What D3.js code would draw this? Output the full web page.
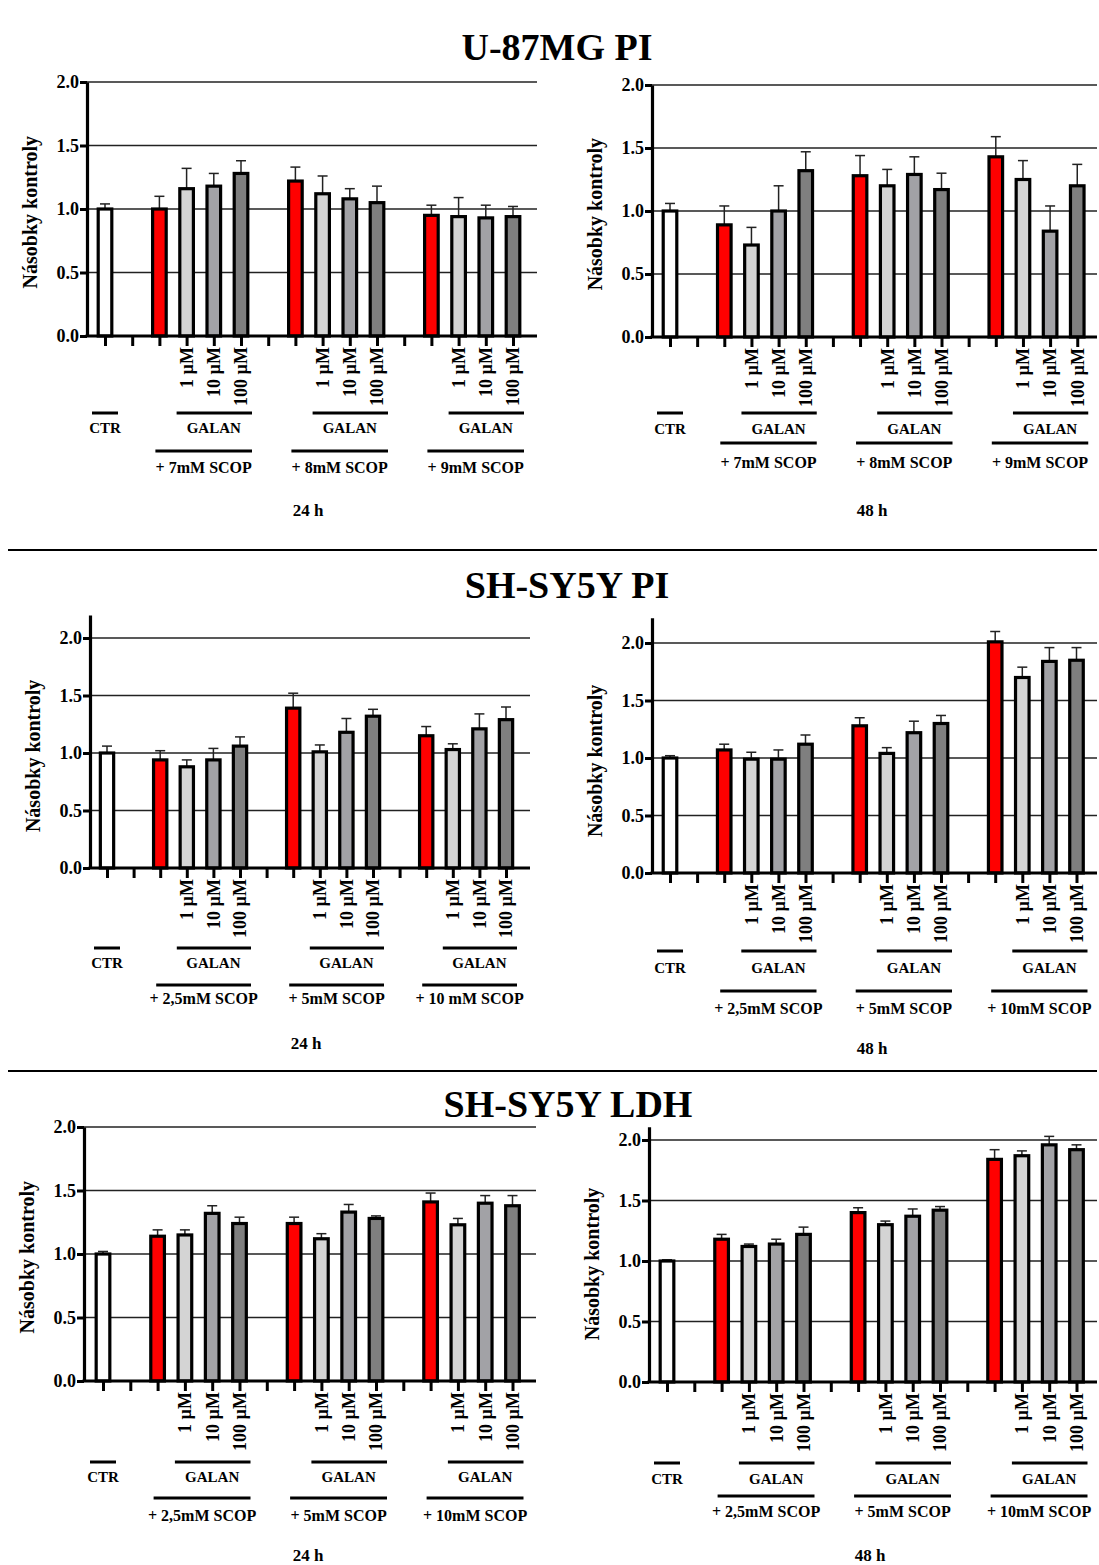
<!DOCTYPE html>
<html>
<head>
<meta charset="utf-8">
<script src="https://cdn.jsdelivr.net/npm/d3@7"></script>
<style>
  body { margin: 0; background: #fff; }
  svg text { font-family: "Liberation Serif", "Times New Roman", serif; font-weight: bold; fill: #000; }
</style>
</head>
<body>
<div id="chart"></div>
<script>
// Data
const yTicks = [0, 0.5, 1.0, 1.5, 2.0];
const concLabels = ["1 µM", "10 µM", "100 µM"];
// slot layout on the x axis: ctr, gap, then 3 x (scop, 1, 10, 100) separated by gaps
const slotKinds = ["ctr", "gap", "scop", "c1", "c10", "c100", "gap", "scop", "c1", "c10", "c100", "gap", "scop", "c1", "c10", "c100"];

const scopU87 = ["+ 7mM SCOP", "+ 8mM SCOP", "+ 9mM SCOP"];
const scopSH24 = ["+ 2,5mM SCOP", "+ 5mM SCOP", "+ 10 mM SCOP"];
const scopSH48 = ["+ 2,5mM SCOP", "+ 5mM SCOP", "+ 10mM SCOP"];
const scopLDH = ["+ 2,5mM SCOP", "+ 5mM SCOP", "+ 10mM SCOP"];

// means: CTR, then per SCOP dose: SCOP alone, +1, +10, +100 uM GALAN
const u87pi24Mean = [1.00, 1.00, 1.16, 1.18, 1.28, 1.22, 1.12, 1.08, 1.05, 0.95, 0.94, 0.93, 0.94];
const u87pi24Err  = [0.04, 0.10, 0.16, 0.10, 0.10, 0.11, 0.14, 0.08, 0.13, 0.08, 0.15, 0.10, 0.08];
const u87pi48Mean = [1.00, 0.89, 0.73, 1.00, 1.32, 1.28, 1.20, 1.29, 1.17, 1.43, 1.25, 0.84, 1.20];
const u87pi48Err  = [0.06, 0.15, 0.14, 0.20, 0.15, 0.16, 0.13, 0.14, 0.13, 0.16, 0.15, 0.20, 0.17];
const shpi24Mean  = [1.00, 0.94, 0.88, 0.94, 1.06, 1.39, 1.01, 1.18, 1.32, 1.15, 1.03, 1.21, 1.29];
const shpi24Err   = [0.06, 0.08, 0.06, 0.10, 0.08, 0.13, 0.06, 0.12, 0.06, 0.08, 0.05, 0.13, 0.11];
const shpi48Mean  = [1.00, 1.07, 0.99, 0.99, 1.12, 1.28, 1.04, 1.22, 1.30, 2.01, 1.70, 1.84, 1.85];
const shpi48Err   = [0.02, 0.05, 0.06, 0.08, 0.08, 0.07, 0.05, 0.10, 0.07, 0.09, 0.09, 0.12, 0.11];
const ldh24Mean   = [1.00, 1.14, 1.15, 1.32, 1.24, 1.24, 1.12, 1.33, 1.28, 1.41, 1.23, 1.40, 1.38];
const ldh24Err    = [0.02, 0.05, 0.04, 0.06, 0.05, 0.05, 0.04, 0.06, 0.02, 0.07, 0.05, 0.06, 0.08];
const ldh48Mean   = [1.00, 1.18, 1.12, 1.14, 1.22, 1.40, 1.30, 1.37, 1.42, 1.84, 1.87, 1.96, 1.92];
const ldh48Err    = [0.01, 0.04, 0.02, 0.04, 0.06, 0.04, 0.03, 0.06, 0.03, 0.08, 0.04, 0.07, 0.04];

const titles = [
  {text: "U-87MG PI", x: 557, y: 60},
  {text: "SH-SY5Y PI", x: 567, y: 598},
  {text: "SH-SY5Y LDH", x: 568, y: 1117}
];

const fills = {ctr: "#ffffff", scop: "#ff0000", c1: "#d4d4d4", c10: "#a2a2a6", c100: "#7f7f7f"};

// panel layout
const panels = [
  {mean: u87pi24Mean, err: u87pi24Err, scop: scopU87, time: "24 h",
   x0: 87, right: 537, c0: 105, step: 27.2, y0: 336, y2: 82, yMax: 2.0,
   galanY: 413, galanT: 433, scopY: 451, scopT: 473, timeX: 308, timeT: 516},
  {mean: u87pi48Mean, err: u87pi48Err, scop: scopU87, time: "48 h",
   x0: 652, right: 1097, c0: 670, step: 27.15, y0: 337, y2: 85, yMax: 2.0,
   galanY: 413, galanT: 434, scopY: 443, scopT: 468, timeX: 872, timeT: 516},
  {mean: shpi24Mean, err: shpi24Err, scop: scopSH24, time: "24 h",
   x0: 90, right: 530, c0: 107, step: 26.6, y0: 868, y2: 638, yMax: 2.2,
   galanY: 948, galanT: 968, scopY: 985, scopT: 1004, timeX: 306, timeT: 1049},
  {mean: shpi48Mean, err: shpi48Err, scop: scopSH48, time: "48 h",
   x0: 652, right: 1097, c0: 670, step: 27.1, y0: 873, y2: 643, yMax: 2.22,
   galanY: 951, galanT: 973, scopY: 991, scopT: 1014, timeX: 872, timeT: 1054},
  {mean: ldh24Mean, err: ldh24Err, scop: scopLDH, time: "24 h",
   x0: 84, right: 536, c0: 103, step: 27.3, y0: 1381, y2: 1127, yMax: 2.0,
   galanY: 1462, galanT: 1482, scopY: 1498, scopT: 1521, timeX: 308, timeT: 1561},
  {mean: ldh48Mean, err: ldh48Err, scop: scopLDH, time: "48 h",
   x0: 649, right: 1097, c0: 667, step: 27.3, y0: 1382, y2: 1140, yMax: 2.11,
   galanY: 1463, galanT: 1484, scopY: 1496, scopT: 1517, timeX: 870, timeT: 1561}
];

const svg = d3.select("#chart").append("svg")
  .attr("width", 1099).attr("height", 1565);

svg.append("rect").attr("width", 1099).attr("height", 1565).attr("fill", "#fff");

// section titles and separators
svg.selectAll(".title").data(titles).join("text")
  .attr("class", "title")
  .attr("x", d => d.x).attr("y", d => d.y)
  .attr("text-anchor", "middle")
  .style("font-size", "38px")
  .text(d => d.text);

svg.selectAll(".sep").data([550, 1071]).join("line")
  .attr("class", "sep")
  .attr("x1", 8).attr("x2", 1097)
  .attr("y1", d => d).attr("y2", d => d)
  .attr("stroke", "#000").attr("stroke-width", 2);

panels.forEach(drawPanel);

function drawPanel(p) {
  const g = svg.append("g");
  const y = d3.scaleLinear().domain([0, 2]).range([p.y0, p.y2]);
  const x = d3.scalePoint().domain(d3.range(slotKinds.length))
    .range([p.c0, p.c0 + (slotKinds.length - 1) * p.step]);
  const bw = p.step * 0.5;

  // bars only for non-gap slots
  const idx = slotKinds.map((k, i) => i).filter(i => slotKinds[i] !== "gap");
  const bars = idx.map((s, j) => ({slot: s, kind: slotKinds[s], v: p.mean[j], e: p.err[j]}));

  // gridlines
  g.selectAll(".grid").data(yTicks.filter(v => v > 0)).join("line")
    .attr("x1", p.x0).attr("x2", p.right)
    .attr("y1", d => y(d)).attr("y2", d => y(d))
    .attr("stroke", "#222").attr("stroke-width", 1.3);

  // error bars (upper only)
  const eb = g.selectAll(".err").data(bars).join("g");
  eb.append("line")
    .attr("x1", d => x(d.slot)).attr("x2", d => x(d.slot))
    .attr("y1", d => y(d.v)).attr("y2", d => y(d.v + d.e))
    .attr("stroke", "#222").attr("stroke-width", 1.5);
  eb.append("line")
    .attr("x1", d => x(d.slot) - 5).attr("x2", d => x(d.slot) + 5)
    .attr("y1", d => y(d.v + d.e)).attr("y2", d => y(d.v + d.e))
    .attr("stroke", "#222").attr("stroke-width", 1.5);

  g.selectAll(".bar").data(bars).join("rect")
    .attr("x", d => x(d.slot) - bw / 2)
    .attr("width", bw)
    .attr("y", d => y(d.v))
    .attr("height", d => p.y0 - y(d.v))
    .attr("fill", d => fills[d.kind])
    .attr("stroke", "#000").attr("stroke-width", 3.2);

  // y axis
  const yAxisScale = d3.scaleLinear().domain([0, p.yMax]).range([p.y0, y(p.yMax)]);
  const ya = g.append("g").attr("transform", `translate(${p.x0},0)`)
    .call(d3.axisLeft(yAxisScale).tickValues(yTicks).tickFormat(d3.format(".1f")).tickSize(7).tickSizeOuter(0));
  ya.select(".domain").attr("stroke-width", 3.2);
  ya.selectAll(".tick line").attr("stroke-width", 3);
  ya.selectAll(".tick text").attr("x", -8).style("font-size", "18px")
    .style("font-family", "Liberation Serif").style("font-weight", "bold");

  g.append("text")
    .attr("transform", `translate(${p.x0 - 50},${(p.y0 + y(1.95)) / 2}) rotate(-90)`)
    .attr("text-anchor", "middle")
    .style("font-size", "20px")
    .text("Násobky kontroly");

  // x axis: line and ticks
  g.append("line")
    .attr("x1", p.x0 - 1.5).attr("x2", p.right)
    .attr("y1", p.y0).attr("y2", p.y0)
    .attr("stroke", "#000").attr("stroke-width", 3.2);
  const xa = g.append("g").attr("transform", `translate(0,${p.y0})`)
    .call(d3.axisBottom(x).tickSize(10).tickFormat(""));
  xa.select(".domain").remove();
  xa.selectAll(".tick line").attr("stroke-width", 3);

  // rotated concentration labels
  const concBars = bars.filter(d => d.kind.startsWith("c") && d.kind !== "ctr");
  g.selectAll(".conc").data(concBars).join("text")
    .attr("transform", d => `translate(${x(d.slot)},${p.y0 + 11}) rotate(-90)`)
    .attr("text-anchor", "end")
    .attr("dy", "0.35em")
    .style("font-size", "18px")
    .text(d => concLabels[["c1", "c10", "c100"].indexOf(d.kind)]);

  // CTR bracket
  const cx = x(0);
  g.append("line").attr("x1", cx - 13).attr("x2", cx + 13)
    .attr("y1", p.galanY).attr("y2", p.galanY)
    .attr("stroke", "#000").attr("stroke-width", 3);
  g.append("text").attr("x", cx).attr("y", p.galanT)
    .attr("text-anchor", "middle").style("font-size", "15px").text("CTR");

  // GALAN and SCOP brackets per group
  const groups = [0, 1, 2].map(k => ({s: 2 + k * 5, label: p.scop[k]}));
  groups.forEach(gr => {
    const xs = x(gr.s), x1 = x(gr.s + 1), x10 = x(gr.s + 2), x100 = x(gr.s + 3);
    g.append("line").attr("x1", x1 - 10).attr("x2", x100 + 11)
      .attr("y1", p.galanY).attr("y2", p.galanY)
      .attr("stroke", "#000").attr("stroke-width", 3);
    g.append("text").attr("x", x10).attr("y", p.galanT)
      .attr("text-anchor", "middle").style("font-size", "15px").text("GALAN");
    g.append("line").attr("x1", xs - 4).attr("x2", x100 + 11)
      .attr("y1", p.scopY).attr("y2", p.scopY)
      .attr("stroke", "#000").attr("stroke-width", 3);
    g.append("text").attr("x", (xs - 4 + x100 + 11) / 2).attr("y", p.scopT)
      .attr("text-anchor", "middle").style("font-size", "16px").text(gr.label);
  });

  g.append("text").attr("x", p.timeX).attr("y", p.timeT)
    .attr("text-anchor", "middle").style("font-size", "17px").text(p.time);
}
</script>
</body>
</html>
